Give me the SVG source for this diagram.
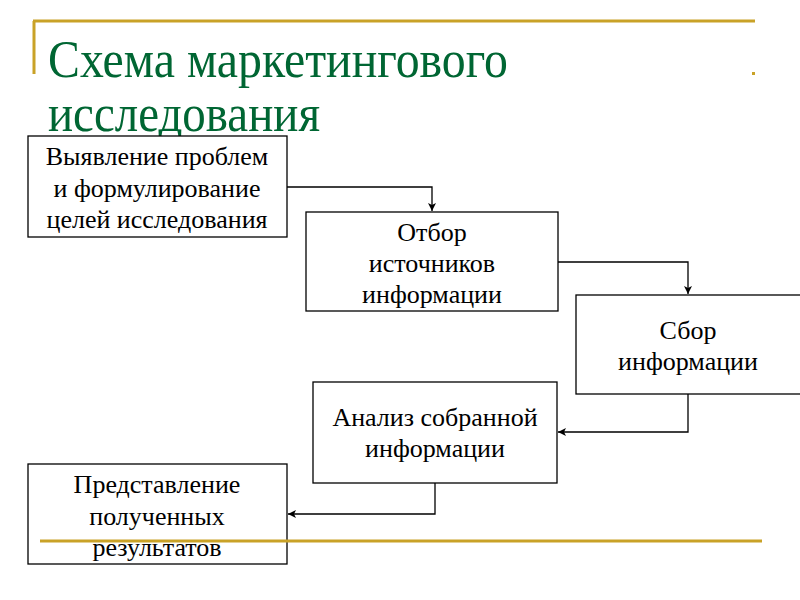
<svg xmlns="http://www.w3.org/2000/svg" width="800" height="600" viewBox="0 0 800 600">
<style>
.gold{stroke:#C9A227;stroke-width:3;fill:none}
.box{fill:#fff;stroke:#000;stroke-width:1.3}
.t{font-family:"Liberation Serif",serif;font-size:26px;fill:#000;text-anchor:middle}
.title{font-family:"Liberation Serif",serif;font-size:52px;fill:#006633}
.c{fill:none;stroke:#000;stroke-width:1.3}
</style>
<defs>
<marker id="a" viewBox="0 0 8 8" refX="8" refY="4" markerWidth="8" markerHeight="8" markerUnits="userSpaceOnUse" orient="auto">
<path d="M0,0 L8,4 L0,8 L2,4 Z" fill="#000"/>
</marker>
</defs>
<rect width="800" height="600" fill="#fff"/>
<g id="frame">
<path class="gold" d="M33,21 H755 M34,21 V74"/>
<rect x="752" y="72" width="3" height="3" fill="#C9A227"/>
</g>
<g id="title">
<text class="title" x="48" y="77" textLength="460" lengthAdjust="spacingAndGlyphs">Схема  маркетингового</text>
<text class="title" x="48" y="131" textLength="272" lengthAdjust="spacingAndGlyphs">исследования</text>
</g>
<g id="connectors">
<path class="c" d="M287,187 H432 V211" marker-end="url(#a)"/>
<path class="c" d="M558,262 H688 V294" marker-end="url(#a)"/>
<path class="c" d="M688,394 V432 H558" marker-end="url(#a)"/>
<path class="c" d="M435,483 V514 H288" marker-end="url(#a)"/>
</g>
<g id="n1">
<rect class="box" x="28" y="136" width="259" height="101"/>
<text class="t" x="157" y="165">Выявление проблем</text>
<text class="t" x="157" y="197">и формулирование</text>
<text class="t" x="157" y="228">целей исследования</text>
</g>
<g id="n2">
<rect class="box" x="306" y="212" width="252" height="99"/>
<text class="t" x="432" y="241">Отбор</text>
<text class="t" x="432" y="272">источников</text>
<text class="t" x="432" y="303">информации</text>
</g>
<g id="n3">
<rect class="box" x="576" y="295" width="226" height="99"/>
<text class="t" x="688" y="339">Сбор</text>
<text class="t" x="688" y="370">информации</text>
</g>
<g id="n4">
<rect class="box" x="313" y="382" width="244" height="101"/>
<text class="t" x="435" y="426">Анализ собранной</text>
<text class="t" x="435" y="457">информации</text>
</g>
<g id="n5">
<rect class="box" x="28" y="464" width="259" height="100"/>
<text class="t" x="157" y="493">Представление</text>
<text class="t" x="157" y="525">полученных</text>
<text class="t" x="157" y="556">результатов</text>
</g>
<path class="gold" d="M40,541 H762"/>
</svg>
